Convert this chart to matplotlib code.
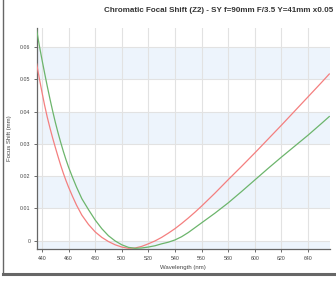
import numpy as np
import matplotlib
matplotlib.use('Agg')
import matplotlib.pyplot as plt
from matplotlib.lines import Line2D

# wavelength samples (nm) and focus shift (mm)
wavelength = [436, 438, 440, 442, 444, 446, 448, 450, 452, 454, 456, 458, 460,
              463, 466, 470, 475, 480, 485, 490, 495, 500, 505, 510, 515, 520,
              525, 530, 535, 540, 545, 550, 555, 560, 570, 580, 590, 600, 610,
              620, 630, 640, 650, 656]
shift_red = [0.0549, 0.0504, 0.0461, 0.0420, 0.0383, 0.0350, 0.0319, 0.0290,
             0.0262, 0.0235, 0.0210, 0.0187, 0.0166, 0.0137, 0.0110, 0.0079,
             0.0050, 0.0027, 0.0010, -0.0003, -0.0013, -0.0020, -0.0024,
             -0.0023, -0.0018, -0.0010, -0.0001, 0.0010, 0.0023, 0.0037,
             0.0053, 0.0070, 0.0088, 0.0107, 0.0147, 0.0189, 0.0230, 0.0272,
             0.0315, 0.0358, 0.0402, 0.0446, 0.0490, 0.0517]
shift_green = [0.0654, 0.0606, 0.0562, 0.0520, 0.0479, 0.0440, 0.0403, 0.0368,
               0.0336, 0.0306, 0.0278, 0.0252, 0.0228, 0.0196, 0.0166, 0.0130,
               0.0096, 0.0064, 0.0037, 0.0015, -0.0001, -0.0013, -0.0021,
               -0.0024, -0.0023, -0.0020, -0.0016, -0.0010, -0.0005, 0.0002,
               0.0012, 0.0025, 0.0040, 0.0055, 0.0085, 0.0117, 0.0152, 0.0188,
               0.0224, 0.0259, 0.0293, 0.0327, 0.0363, 0.0385]

x_ticks = [440, 460, 480, 500, 520, 540, 560, 580, 600, 620, 640]
y_ticks = [0, 0.01, 0.02, 0.03, 0.04, 0.05, 0.06]
y_tick_labels = ['0', '0.01', '0.02', '0.03', '0.04', '0.05', '0.06']

plt.rcParams['font.family'] = ['Liberation Sans', 'DejaVu Sans']

fig = plt.figure(figsize=(3.36, 2.82), dpi=100)
ax = fig.add_axes([0.109, 0.116, 0.873, 0.785])

ax.set_xlim(436, 656.5)
ax.set_ylim(-0.0027, 0.066)

# alternating plot bands
band = '#edf4fc'
for lo in [-0.01, 0.01, 0.03, 0.05]:
    ax.axhspan(lo, lo + 0.01, color=band, zorder=0, lw=0)

for x in x_ticks:
    ax.axvline(x, color='#e2e2e2', lw=0.8, zorder=1)
for y in y_ticks:
    ax.axhline(y, color='#e2e2e2', lw=0.8, zorder=1)

ax.plot(wavelength, shift_red, color='#f47f7f', lw=0.9, zorder=3)
ax.plot(wavelength, shift_green, color='#6cb56c', lw=0.9, zorder=3)

ax.set_xticks(x_ticks)
ax.set_xticklabels([str(v) for v in x_ticks])
ax.set_yticks(y_ticks)
ax.set_yticklabels(y_tick_labels)
ax.tick_params(axis='both', labelsize=3.8, colors='#555555', length=2.5,
               width=0.6, pad=2, labelcolor='#444444')

for side in ['top', 'right']:
    ax.spines[side].set_visible(False)
for side in ['left', 'bottom']:
    ax.spines[side].set_color('#666666')
    ax.spines[side].set_linewidth(0.9)

ax.set_xlabel('Wavelength (nm)', fontsize=4.3, color='#444444', labelpad=3)
ax.set_ylabel('Focus Shift (mm)', fontsize=4.3, color='#444444', labelpad=6)

fig.text(0.992, 0.962, 'Chromatic Focal Shift (Z2) - SY f=90mm F/3.5 Y=41mm x0.05',
         ha='right', va='center', fontsize=5.8, fontweight='bold', color='#333333')

# outer frame (left and bottom edges)
fig.add_artist(Line2D([0.009, 0.009], [0.028, 1.0], color='#666666', lw=1.0,
                      transform=fig.transFigure))
fig.add_artist(Line2D([0.009, 1.0], [0.028, 0.028], color='#666666', lw=2.2,
                      transform=fig.transFigure))

fig.savefig('out.png', dpi=100)
